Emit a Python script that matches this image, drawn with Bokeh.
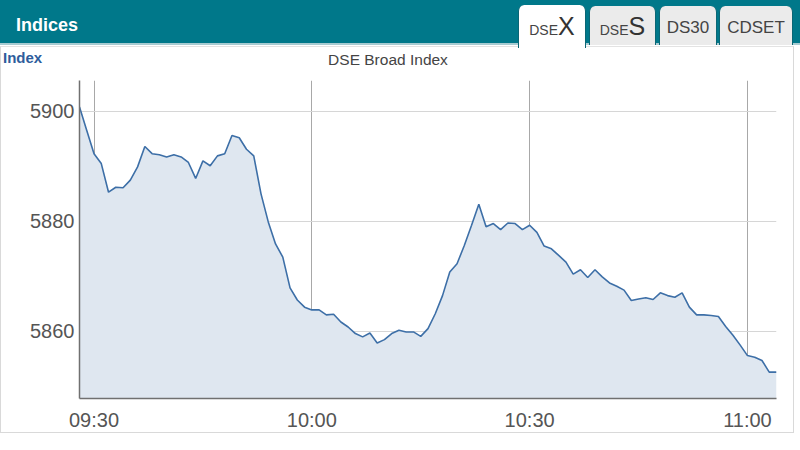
from bokeh.plotting import figure
from bokeh.models import Range1d, FixedTicker, ColumnDataSource, Div
from bokeh.layouts import column
from bokeh.embed import file_html
from bokeh.resources import INLINE

# ---------------- data ----------------
START_MIN = -2  # first sample at 09:28 (minutes relative to 09:30), one sample per minute
index_values = [
    5900.8, 5896.5, 5892.3, 5890.5, 5885.3, 5886.2, 5886.1, 5887.5, 5889.9, 5893.6,
    5892.3, 5892.1, 5891.7, 5892.1, 5891.7, 5890.7, 5887.8, 5891.0, 5890.1, 5891.9,
    5892.3, 5895.6, 5895.2, 5893.1, 5891.9, 5885.0, 5879.9, 5875.9, 5873.5, 5867.9,
    5865.7, 5864.4, 5863.9, 5863.9, 5863.0, 5863.1, 5861.7, 5860.8, 5859.6, 5859.0,
    5859.7, 5857.9, 5858.5, 5859.6, 5860.2, 5859.9, 5859.9, 5859.1, 5860.5, 5863.2,
    5866.5, 5870.8, 5872.3, 5875.6, 5879.3, 5883.1, 5879.0, 5879.6, 5878.5, 5879.7,
    5879.6, 5878.5, 5879.3, 5878.0, 5875.5, 5875.0, 5873.8, 5872.6, 5870.4, 5871.2,
    5869.8, 5871.2, 5869.9, 5868.8, 5868.2, 5867.5, 5865.6, 5865.9, 5866.1, 5865.8,
    5867.0, 5866.5, 5866.2, 5867.0, 5864.4, 5863.0, 5863.0, 5862.9, 5862.7, 5860.9,
    5859.3, 5857.5, 5855.6, 5855.3, 5854.7, 5852.6, 5852.6,
]
minutes = [START_MIN + i for i in range(len(index_values))]
x_tick_minutes = [0, 30, 60, 90]
x_tick_labels = ["09:30", "10:00", "10:30", "11:00"]
y_ticks = [5860, 5880, 5900]
tab_names = ["DSEX", "DSES", "DS30", "CDSET"]
panel_title = "Indices"
chart_title = "DSE Broad Index"
axis_title = "Index"

FONT = "Liberation Sans"
TEAL = "#00788a"
W = 800
HDR_H = 70

# ---------------- header (HTML) ----------------
tab_left = [518, 589, 659, 719]
tab_width = [68, 67, 58, 74]
tab_top = [5, 6, 6, 6]
tab_height = [43, 39, 39, 39]
tab_pad = [9, 8, 13, 13]

def tab_html(i):
    name = tab_names[i]
    bg = "#ffffff" if i == 0 else "#ebebeb"
    if i < 2:
        inner = (f'<div style="padding-top:{tab_pad[i]}px;text-align:center;line-height:1;'
                 f'font-size:25px;color:#333;"><span style="font-size:14px;color:#444;">{name[:3]}</span>'
                 f'{name[3:]}</div>')
    else:
        inner = (f'<div style="padding-top:{tab_pad[i]}px;text-align:center;line-height:1;'
                 f'font-size:17px;color:#444;">{name}</div>')
    return (f'<div style="position:absolute;left:{tab_left[i]}px;top:{tab_top[i]}px;'
            f'width:{tab_width[i]}px;height:{tab_height[i]}px;background:{bg};'
            f'border-radius:6px 6px 0 0;box-sizing:border-box;'
            f'border-left:1px solid #0a6675;border-right:1px solid #0a6675;">{inner}</div>')

html = (
    f'<div style="position:relative;width:{W}px;height:{HDR_H}px;overflow:hidden;'
    f'font-family:\'{FONT}\',Arial,sans-serif;">'
    f'<div style="position:absolute;left:0;top:0;width:{W}px;height:43px;background:{TEAL};"></div>'
    f'<div style="position:absolute;left:0;top:43px;width:{W}px;height:2px;background:#a8cbd1;"></div>'
    f'<div style="position:absolute;left:0;top:46px;width:794px;height:{HDR_H - 46}px;'
    f'border-left:1px solid #d9d9d9;border-right:1px solid #d9d9d9;border-top:1px solid #e3e3e3;"></div>'
    f'<div style="position:absolute;left:16px;top:16px;font-size:18px;font-weight:bold;color:#fff;'
    f'line-height:1;">{panel_title}</div>'
    + "".join(tab_html(i) for i in range(len(tab_names))) +
    f'<div style="position:absolute;left:3px;top:50px;font-size:15px;font-weight:bold;color:#2e5d9c;'
    f'line-height:1;">{axis_title}</div>'
    f'<div style="position:absolute;left:288px;top:52px;width:200px;text-align:center;font-size:15.5px;'
    f'color:#444;line-height:1;">{chart_title}</div>'
    f'</div>'
)
hdr = Div(text=html, width=W, height=HDR_H, margin=0)

# ---------------- chart ----------------
CW, CH = 794, 363
FR_L, FR_R, FR_T, FR_B = 78, 775, 10, 328
XR = (-2, 94)
YR = (5847.8, 5905.6)

p = figure(width=CW, height=CH, x_range=Range1d(*XR), y_range=Range1d(*YR),
           toolbar_location=None, output_backend="svg",
           min_border_left=FR_L, min_border_right=CW - FR_R,
           min_border_top=FR_T, min_border_bottom=CH - FR_B,
           outline_line_color=None, margin=0)
p.styles = {"border-left": "1px solid #d9d9d9", "border-right": "1px solid #d9d9d9",
            "border-bottom": "1px solid #d9d9d9"}

src = ColumnDataSource(dict(x=minutes, y=index_values))
p.varea(x="x", y1=YR[0] - 10, y2="y", source=src, fill_color="#dfe7f0")
p.line(x="x", y="y", source=src, line_color="#3d6fa7", line_width=1.6)

p.xaxis.ticker = FixedTicker(ticks=x_tick_minutes)
p.xaxis.major_label_overrides = {m: l for m, l in zip(x_tick_minutes, x_tick_labels)}
p.yaxis.ticker = FixedTicker(ticks=y_ticks)
for ax in (p.xaxis[0], p.yaxis[0]):
    ax.major_tick_out = 0
    ax.major_tick_in = 0
    ax.minor_tick_out = 0
    ax.minor_tick_in = 0
    ax.axis_line_color = "#707070"
    ax.axis_line_width = 1.5
    ax.major_label_text_font = FONT
    ax.major_label_text_color = "#555555"
    ax.major_label_text_font_size = "20px"
p.xaxis.major_label_standoff = 10
p.yaxis.major_label_standoff = 5
p.xgrid.ticker = FixedTicker(ticks=x_tick_minutes)
p.ygrid.ticker = FixedTicker(ticks=y_ticks)
p.xgrid.grid_line_color = "#a8a8a8"
p.ygrid.grid_line_color = "#d6d6d6"

layout = column(hdr, p, spacing=0)
open("out.html", "w").write(file_html(layout, INLINE))
